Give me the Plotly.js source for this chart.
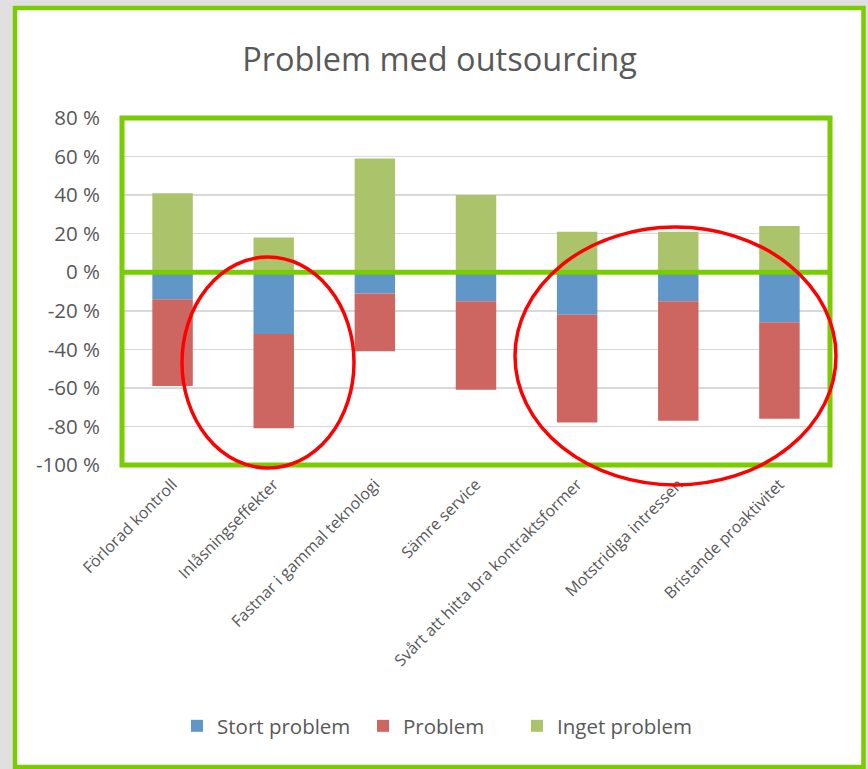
<!DOCTYPE html>
<html><head><meta charset="utf-8">
<script src="https://cdn.plot.ly/plotly-3.0.1.min.js"></script>
<style>html,body{margin:0;padding:0;background:#e0e0e0;}#chart{width:868px;height:769px;}</style>
</head><body><div id="chart"></div>
<script>
const categories = ['Förlorad kontroll','Inlåsningseffekter','Fastnar i gammal teknologi','Sämre service','Svårt att hitta bra kontraktsformer','Motstridiga intressen','Bristande proaktivitet'];
const stortProblem = [-0.14,-0.32,-0.11,-0.15,-0.22,-0.15,-0.26];
const problem = [-0.45,-0.49,-0.30,-0.46,-0.56,-0.62,-0.50];
const ingetProblem = [0.41,0.18,0.59,0.40,0.21,0.21,0.24];
const seriesNames = ['Stort problem','Problem','Inget problem'];
const yTickVals = [0.8,0.6,0.4,0.2,0,-0.2,-0.4,-0.6,-0.8,-1];
const yTickText = ['80 %','60 %','40 %','20 %','0 %','-20 %','-40 %','-60 %','-80 %','-100 %'];

const W=868,H=769,L=122,R=38,T=118,B=304;
const PW=W-L-R, PH=H-T-B;
const px=x=>(x-L)/PW, py=y=>(T+PH-y)/PH;
const GREEN='#78cc00', FONT='"Open Sans", sans-serif', TXT='#595959';

const colors=['#6196c9','#cd6660','#abc46c'];
const vals=[stortProblem,problem,ingetProblem];
const legendIds=['legend','legend2','legend3'];
const traces=vals.map((v,i)=>({type:'bar',x:categories,y:v,name:seriesNames[i],
  marker:{color:colors[i],line:{width:0}},legend:legendIds[i],hoverinfo:'skip'}));

const legendX=[177,363,517];
const leg={};
legendIds.forEach((id,i)=>{leg[id]={orientation:'h',x:px(legendX[i]),xanchor:'left',y:py(726),yanchor:'middle',
  font:{family:FONT,size:20.5,color:TXT},bgcolor:'rgba(0,0,0,0)'};});

const layout=Object.assign({
  width:W,height:H,margin:{l:L,r:R,t:T,b:B},
  paper_bgcolor:'#e0e0e0',plot_bgcolor:'#ffffff',
  barmode:'relative',bargap:0.6,showlegend:true,
  title:{text:'Problem med outsourcing',font:{family:FONT,size:32.5,color:TXT},xref:'container',x:439.5/W,xanchor:'center',yref:'container',y:1-60/H,yanchor:'middle'},
  xaxis:{type:'category',tickangle:-45,tickfont:{family:FONT,size:16,color:TXT},showgrid:false,zeroline:false,showline:false,ticks:'',ticklabelstandoff:6},
  yaxis:{range:[-1,0.8],tickvals:yTickVals,ticktext:yTickText,tickfont:{family:FONT,size:20.5,color:TXT},gridcolor:'#d9d9d9',gridwidth:1.5,zeroline:false,showline:false,ticks:'',ticklabelstandoff:21},
  shapes:[
    {type:'rect',xref:'paper',yref:'paper',x0:px(15),x1:px(863.5),y0:py(767),y1:py(8),fillcolor:'#ffffff',line:{color:GREEN,width:4.5},layer:'below'},
    {type:'rect',xref:'paper',yref:'paper',x0:0,x1:1,y0:0,y1:1,line:{color:GREEN,width:5},layer:'above'},
    {type:'line',xref:'paper',yref:'y',x0:0,x1:1,y0:0,y1:0,line:{color:GREEN,width:5},layer:'above'},
    {type:'circle',xref:'paper',yref:'paper',x0:px(182),x1:px(354),y0:py(468),y1:py(257),line:{color:'#ff0000',width:3.5},layer:'above'},
    {type:'circle',xref:'paper',yref:'paper',x0:px(515),x1:px(836),y0:py(485),y1:py(227),line:{color:'#ff0000',width:3.5},layer:'above'}
  ]
},leg);

Plotly.newPlot('chart',traces,layout,{displayModeBar:false,staticPlot:true});
</script></body></html>
